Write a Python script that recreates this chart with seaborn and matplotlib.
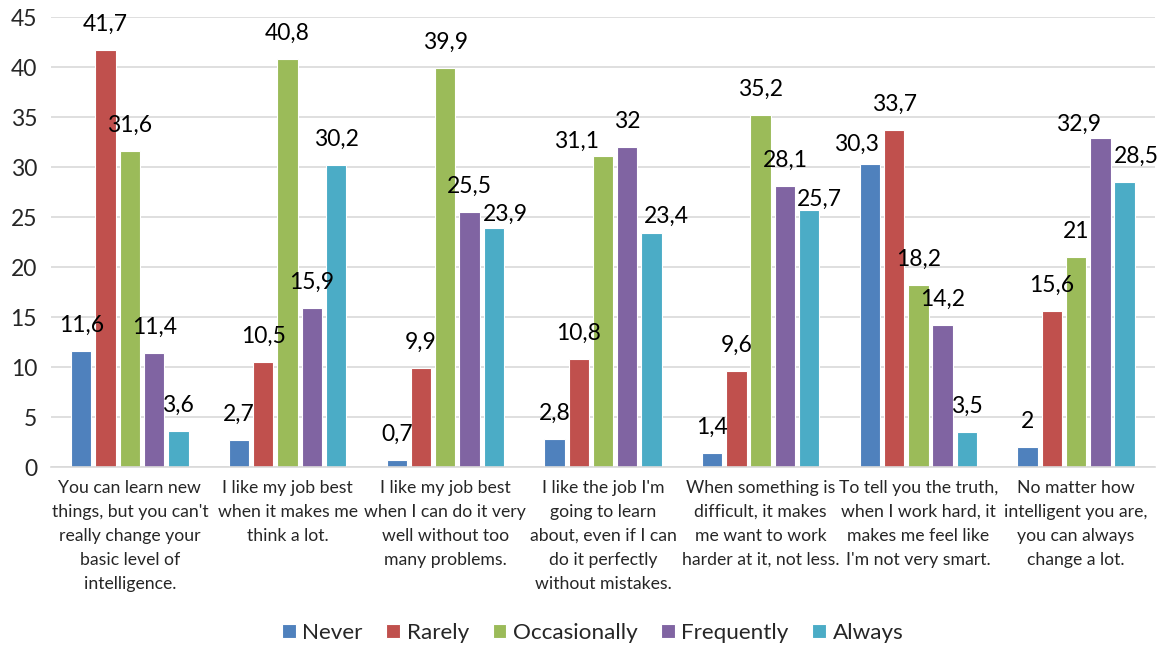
import matplotlib
matplotlib.use("Agg")
import matplotlib.pyplot as plt
import seaborn as sns
import pandas as pd

categories = [
    "You can learn new\nthings, but you can't\nreally change your\nbasic level of\nintelligence.",
    "I like my job best\nwhen it makes me\nthink a lot.",
    "I like my job best\nwhen I can do it very\nwell without too\nmany problems.",
    "I like the job I'm\ngoing to learn\nabout, even if I can\ndo it perfectly\nwithout mistakes.",
    "When something is\ndifficult, it makes\nme want to work\nharder at it, not less.",
    "To tell you the truth,\nwhen I work hard, it\nmakes me feel like\nI'm not very smart.",
    "No matter how\nintelligent you are,\nyou can always\nchange a lot.",
]
series_names = ["Never", "Rarely", "Occasionally", "Frequently", "Always"]
never = [11.6, 2.7, 0.7, 2.8, 1.4, 30.3, 2]
rarely = [41.7, 10.5, 9.9, 10.8, 9.6, 33.7, 15.6]
occasionally = [31.6, 40.8, 39.9, 31.1, 35.2, 18.2, 21]
frequently = [11.4, 15.9, 25.5, 32, 28.1, 14.2, 32.9]
always = [3.6, 30.2, 23.9, 23.4, 25.7, 3.5, 28.5]
colors = ["#4F81BD", "#C0504D", "#9BBB59", "#8064A2", "#4BACC6"]
y_ticks = [0, 5, 10, 15, 20, 25, 30, 35, 40, 45]

# Hand-placed value labels: (series index, category index) -> (dx, dy) in px,
# dy positive meaning lower than the default spot above the bar.
label_nudges = {
    (4, 2): (12, 12),
    (2, 3): (-26, 11),
    (4, 3): (15, 9),
    (4, 4): (10, 15),
    (0, 5): (-13, 6),
    (3, 6): (-22, 12),
    (4, 6): (12, 0),
}

rows = []
for name, vals in zip(series_names, [never, rarely, occasionally, frequently, always]):
    for cat, v in zip(categories, vals):
        rows.append({"category": cat, "series": name, "value": v})
df = pd.DataFrame(rows)

sns.set_theme(style="white")
plt.rcParams["font.family"] = ["Lato", "DejaVu Sans"]

fig = plt.figure(figsize=(11.67, 6.49), dpi=100)
ax = fig.add_axes([0.0437, 0.2804, 0.946, 0.6934])

sns.barplot(data=df, x="category", y="value", hue="series",
            order=categories, hue_order=series_names, palette=colors,
            width=0.77, gap=0.16, edgecolor="white", linewidth=0.8,
            saturation=1, ax=ax, legend=True)

def fmt(v):
    return f"{v:g}".replace(".", ",")

PX = 0.72  # points per pixel at 100 dpi
for si, container in enumerate(ax.containers):
    for ci, bar in enumerate(container):
        h = bar.get_height()
        dx, dy = label_nudges.get((si, ci), (0, 0))
        ax.annotate(fmt(h), (bar.get_x() + bar.get_width() / 2, h),
                    xytext=(dx * PX, (19 - dy) * PX), textcoords="offset points",
                    ha="center", va="baseline", fontsize=16.5, color="black")

ax.set_ylim(0, 45)
ax.set_yticks(y_ticks)
ax.set_yticklabels([str(t) for t in y_ticks], fontsize=16.5)
ax.yaxis.grid(True, color="#D9D9D9", linewidth=1.2)
ax.set_axisbelow(True)
for s in ["left", "top", "right"]:
    ax.spines[s].set_visible(False)
ax.spines["bottom"].set_color("#D9D9D9")
ax.spines["bottom"].set_linewidth(1.2)
ax.tick_params(axis="both", length=0)
ax.tick_params(axis="y", pad=10)
ax.tick_params(axis="x", pad=9)
ax.set_xlabel("")
ax.set_ylabel("")
for lbl in ax.get_xticklabels():
    lbl.set_fontsize(12.7)
    lbl.set_linespacing(1.62)
    lbl.set_verticalalignment("top")

handles, labels = ax.get_legend_handles_labels()
ax.legend_.remove()
fig.legend(handles, labels, loc="center", bbox_to_anchor=(0.508, 0.025),
           ncol=5, frameon=False, fontsize=16.2, handlelength=0.6,
           handleheight=0.6, handletextpad=0.3, columnspacing=1.05)

fig.savefig("out.png", dpi=100)
